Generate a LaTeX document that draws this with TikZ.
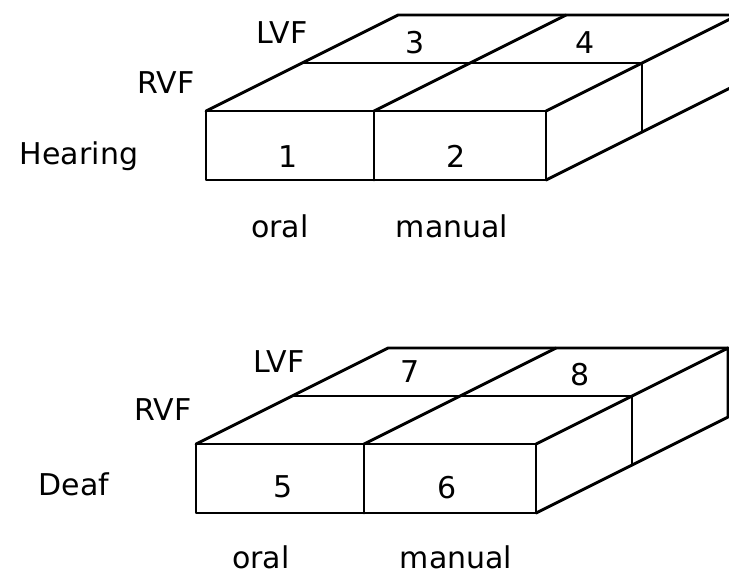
\documentclass[tikz,border=0pt]{standalone}
\usepackage{fontspec}
\setmainfont{DejaVu Sans}
\begin{document}
\begin{tikzpicture}[x=1pt,y=-1pt,
  edge/.style={line width=2.9pt,line join=round,line cap=round},
  lab/.style={font=\fontsize{30}{32}\selectfont,inner sep=0pt,anchor=base},
  slab/.pic={
    \coordinate (-ftl) at (0,0);
    \coordinate (-ftm) at (168,0);
    \coordinate (-ftr) at (340,0);
    \coordinate (-fbl) at (0,69);
    \coordinate (-fbm) at (168,69);
    \coordinate (-fbr) at (340,69);
    \coordinate (-mtl) at (96,-48);
    \coordinate (-mtr) at (436,-48);
    \coordinate (-mbr) at (436,21);
    \coordinate (-btl) at (192,-96);
    \coordinate (-btm) at (360,-96);
    \coordinate (-btr) at (532,-96);
    \coordinate (-bbr) at (532,-27);
    \draw[edge] (-ftl) -- (-ftr) -- (-fbr) -- (-fbl) -- cycle;
    \draw[edge] (-ftm) -- (-fbm);
    \draw[edge] (-ftl) -- (-btl) -- (-btr);
    \draw[edge] (-ftm) -- (-btm);
    \draw[edge] (-ftr) -- (-btr) -- (-bbr) -- (-fbr);
    \draw[edge] (-mtl) -- (-mtr) -- (-mbr);
  }]
\useasboundingbox (0,0) rectangle (729,574);
\begin{scope}
\clip (0,0) rectangle (729,574);
\pic (top) at (206,111) {slab};
\pic (bot) at (196,444) {slab};
\end{scope}
% top block labels
\node[lab] (lvf1) at (282,43) {LVF};
\node[lab] (rvf1) at (166,93) {RVF};
\node[lab] (hear) at (79,164) {Hearing};
\node[lab] (n1) at (288,167) {1};
\node[lab] (n2) at (456,167) {2};
\node[lab] (n3) at (415,53) {3};
\node[lab] (n4) at (585,53) {4};
\node[lab] (oral1) at (280,237) {oral};
\node[lab] (man1) at (452,237) {manual};
% bottom block labels
\node[lab] (lvf2) at (279,372) {LVF};
\node[lab] (rvf2) at (163,420) {RVF};
\node[lab] (deaf) at (74,495) {Deaf};
\node[lab] (n5) at (283,497) {5};
\node[lab] (n6) at (447,498) {6};
\node[lab] (n7) at (410,382) {7};
\node[lab] (n8) at (580,385) {8};
\node[lab] (oral2) at (261,568) {oral};
\node[lab] (man2) at (456,568) {manual};
\end{tikzpicture}
\end{document}
